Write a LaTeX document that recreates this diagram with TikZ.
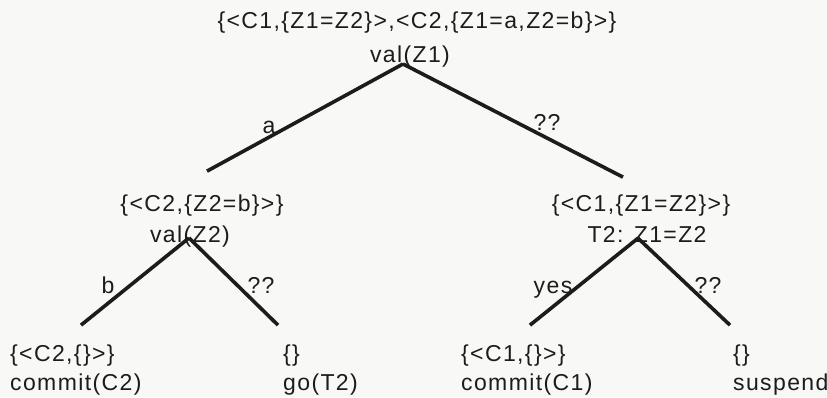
\documentclass[tikz,border=0pt]{standalone}
\usepackage{fontspec}
\setmainfont{Liberation Sans}[LetterSpace=6]
\usepackage{xcolor}
\definecolor{InkBlack}{HTML}{1C1C1C}
\definecolor{PaperWhite}{HTML}{F8F8F6}
\usepackage{tikz}

\begin{document}
\begin{tikzpicture}[x=1pt, y=-1pt,
  treetext/.style={inner sep=0pt, anchor=base, text=InkBlack,
                   font=\fontsize{23}{27}\selectfont},
  leaftext/.style={treetext, anchor=base west},
  branch/.style={draw=InkBlack, line width=3.6pt}]
  \useasboundingbox (0,0) rectangle (827,397);
  \fill[PaperWhite] (0,0) rectangle (827,397);

  % --- Racine ---
  \node[treetext] (rootset) at (417,28) {\{<C1,\{Z1=Z2\}>,<C2,\{Z1=a,Z2=b\}>\}};
  \node[treetext] (rootop)  at (410,62) {val(Z1)};

  % --- Sous-arbre gauche ---
  \node[treetext] (lset) at (202,211) {\{<C2,\{Z2=b\}>\}};
  \node[treetext] (lop)  at (190,242) {val(Z2)};

  % --- Sous-arbre droit ---
  \node[treetext] (rset) at (641,211) {\{<C1,\{Z1=Z2\}>\}};
  \node[treetext] (rop)  at (647,242) {T2: Z1=Z2};

  % --- Feuilles ---
  \node[leaftext] (llset) at (10,361)  {\{<C2,\{\}>\}};
  \node[leaftext] (llact) at (10,390)  {commit(C2)};
  \node[leaftext] (lrset) at (283,361) {\{\}};
  \node[leaftext] (lract) at (283,390) {go(T2)};
  \node[leaftext] (rlset) at (461,361) {\{<C1,\{\}>\}};
  \node[leaftext] (rlact) at (461,390) {commit(C1)};
  \node[leaftext] (rrset) at (733,361) {\{\}};
  \node[leaftext] (rract) at (733,390) {suspend};

  % --- Branches ---
  \draw[branch] ([xshift=-7pt,yshift=3pt]rootop.south) -- ([xshift=5pt,yshift=23pt]lset.north);
  \draw[branch] ([xshift=-7pt,yshift=3pt]rootop.south) -- ([xshift=-18pt,yshift=17pt]rset.north);
  \draw[branch] ([xshift=-1pt,yshift=9pt]lop.south) -- ([xshift=71pt,yshift=19pt]llset.north west);
  \draw[branch] ([xshift=-1pt,yshift=9pt]lop.south) -- ([xshift=-5pt,yshift=19pt]lrset.north west);
  \draw[branch] ([xshift=-9pt,yshift=4pt]rop.south) -- ([xshift=69pt,yshift=19pt]rlset.north west);
  \draw[branch] ([xshift=-9pt,yshift=4pt]rop.south) -- ([xshift=-3pt,yshift=19pt]rrset.north west);

  % --- Etiquettes ---
  \node[treetext] (lbla)  at (269,133) {a};
  \node[treetext] (lblq1) at (547,130) {??};
  \node[treetext] (lblb)  at (108,293) {b};
  \node[treetext] (lblq2) at (261,293) {??};
  \node[treetext] (lbly)  at (553,293) {yes};
  \node[treetext] (lblq3) at (708,293) {??};
\end{tikzpicture}
\end{document}
